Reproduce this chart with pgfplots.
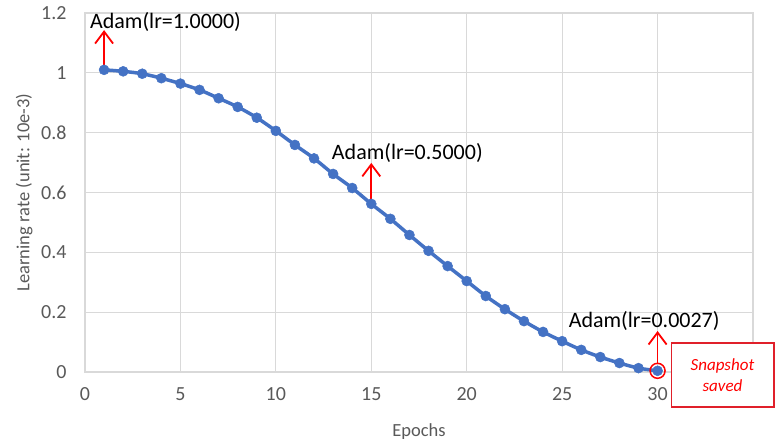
\documentclass[border=0pt]{standalone}
\usepackage{pgfplots}
\pgfplotsset{compat=1.18}
\usepackage{fontspec}
\setmainfont{Carlito}
\usetikzlibrary{arrows.meta}
\definecolor{lineblue}{HTML}{4472C4}
\definecolor{gridgray}{HTML}{D9D9D9}
\definecolor{axisgray}{HTML}{BFBFBF}
\definecolor{tickgray}{HTML}{595959}
\definecolor{annred}{HTML}{FF0000}
\definecolor{boxred}{HTML}{E0202A}
\begin{document}
\begin{tikzpicture}
\useasboundingbox (-85pt,-73pt) rectangle (692pt,372pt);
\begin{axis}[
  at={(0pt,0pt)}, anchor=south west,
  scale only axis, width=668pt, height=359pt,
  xmin=0, xmax=35, ymin=0, ymax=1.2,
  xtick={0,5,10,15,20,25,30},
  ytick={0,0.2,0.4,0.6,0.8,1,1.2},
  grid=major, grid style={draw=gridgray, line width=1pt},
  axis line style={draw=gridgray, line width=1.2pt},
  tick style={draw=none},
  ticklabel style={font=\fontsize{20}{22}\selectfont, text=tickgray},
  /pgf/number format/assume math mode=true,
  yticklabel style={/pgf/number format/fixed, /pgf/number format/precision=1, xshift=-15pt},
  xticklabel style={yshift=-12pt},
  xlabel={Epochs}, ylabel={Learning rate (unit: 10e-3)},
  label style={font=\fontsize{18.5}{20}\selectfont, text=tickgray},
  xlabel style={at={(axis description cs:0.5,-0.167)}, anchor=center},
  ylabel style={at={(axis description cs:-0.091,0.5)}, anchor=center},
  clip=false,
]
\addplot[lineblue, line width=3.5pt, smooth, mark=*, mark size=5pt, mark options={fill=lineblue, draw=lineblue, line width=0.5pt}] coordinates {
(1,1.01) (2,1.005) (3,0.997) (4,0.982) (5,0.964) (6,0.943) (7,0.915) (8,0.886)
(9,0.85) (10,0.806) (11,0.759) (12,0.714) (13,0.662) (14,0.615) (15,0.562)
(16,0.512) (17,0.458) (18,0.405) (19,0.354) (20,0.304) (21,0.254) (22,0.21)
(23,0.17) (24,0.134) (25,0.103) (26,0.074) (27,0.05) (28,0.03) (29,0.013) (30,0.004)
};
\addplot[only marks, mark=o, mark size=7.5pt, annred, line width=1.5pt] coordinates {(30,0.004)};
\draw[annred, line width=1.8pt, -{Straight Barb[length=12pt, width=18pt]}] (axis cs:1,1.01) -- (axis cs:1,1.143);
\draw[annred, line width=1.8pt, -{Straight Barb[length=12pt, width=18pt]}] (axis cs:15,0.562) -- (axis cs:15,0.699);
\draw[annred, line width=1.8pt, -{Straight Barb[length=12pt, width=18pt]}] (axis cs:30,0.03) -- (axis cs:30,0.137);
\node[anchor=west, inner sep=0pt, font=\fontsize{22}{24}\selectfont] at (axis cs:0.26,1.17) {Adam(lr=1.0000)};
\node[anchor=west, inner sep=0pt, font=\fontsize{22}{24}\selectfont] at (axis cs:12.93,0.732) {Adam(lr=0.5000)};
\node[anchor=west, inner sep=0pt, font=\fontsize{22}{24}\selectfont] at (axis cs:25.34,0.170) {Adam(lr=0.0027)};
\draw[boxred, line width=1.2pt, fill=white] (axis cs:30.73,0.097) rectangle (axis cs:36.1,-0.117);
\node[annred, font=\itshape\fontsize{17}{21}\selectfont, align=center] at (axis cs:33.4,-0.01) {Snapshot\\saved};
\end{axis}
\end{tikzpicture}
\end{document}
